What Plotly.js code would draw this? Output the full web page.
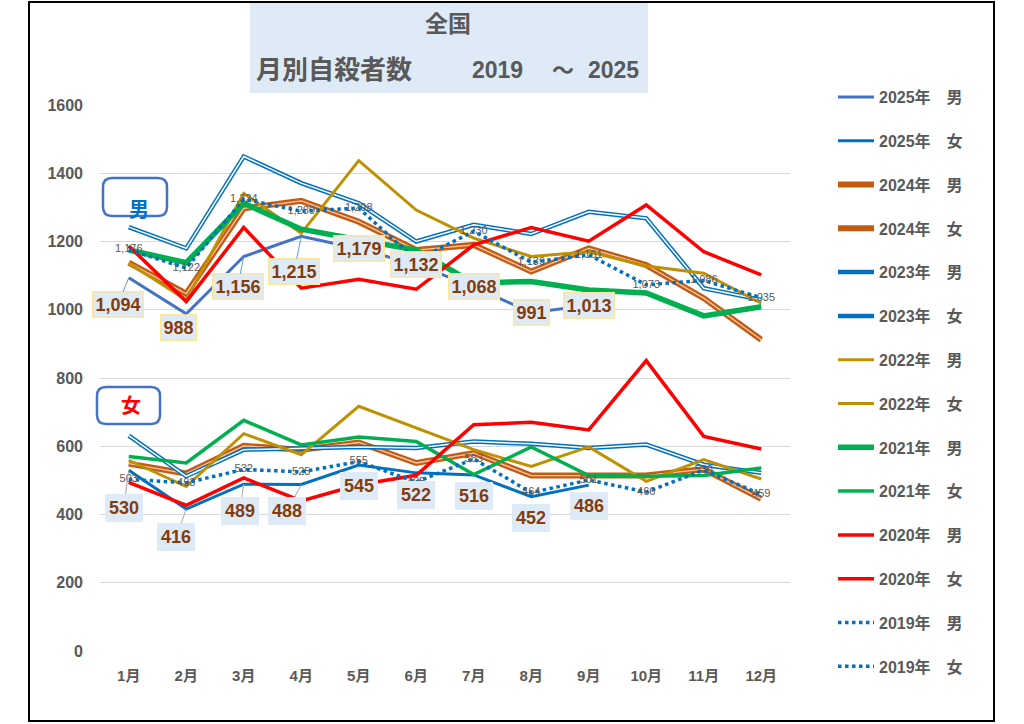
<!DOCTYPE html>
<html>
<head>
<meta charset="utf-8">
<script src="https://cdn.plot.ly/plotly-3.0.1.min.js"></script>
<style>html,body{margin:0;padding:0;background:#fff;}#chart{width:1024px;height:724px;}</style>
</head>
<body>
<div id="chart"></div>
<script>
// ---- data ----
const months = ['1月','2月','3月','4月','5月','6月','7月','8月','9月','10月','11月','12月'];
const yAxisTicks = [0, 200, 400, 600, 800, 1000, 1200, 1400, 1600];
const male2025 = [1094, 988, 1156, 1215, 1179, 1132, 1068, 991, 1013, null, null, null];
const female2025 = [530, 416, 489, 488, 545, 522, 516, 452, 486, null, null, null];
const male2024 = [1138, 1047, 1297, 1319, 1258, 1175, 1190, 1112, 1180, 1131, 1034, 912];
const female2024 = [549, 520, 601, 590, 611, 551, 580, 514, 514, 514, 533, 446];
const male2023 = [1242, 1180, 1449, 1371, 1312, 1200, 1249, 1222, 1287, 1268, 1063, 1029];
const female2023 = [631, 512, 590, 595, 598, 595, 614, 607, 595, 605, 546, 522];
const male2022 = [1136, 1029, 1341, 1224, 1437, 1292, 1210, 1156, 1170, 1128, 1107, 1019];
const female2022 = [559, 482, 637, 575, 717, 653, 590, 541, 598, 497, 561, 504];
const male2021 = [1175, 1138, 1312, 1236, 1205, 1175, 1078, 1083, 1058, 1049, 982, 1009];
const female2021 = [570, 551, 676, 604, 627, 614, 517, 598, 514, 512, 514, 536];
const male2020 = [1187, 1024, 1241, 1063, 1089, 1060, 1190, 1241, 1201, 1307, 1170, 1102];
const female2020 = [494, 427, 507, 440, 487, 515, 663, 670, 648, 851, 629, 592];
const male2019 = [1176, 1122, 1324, 1289, 1298, 1145, 1230, 1139, 1161, 1073, 1086, 1035];
const female2019 = [503, 493, 532, 525, 555, 495, 563, 464, 501, 466, 530, 459];
const seriesNames = ['2025年　男','2025年　女','2024年　男','2024年　女','2023年　男','2023年　女',
  '2022年　男','2022年　女','2021年　男','2021年　女','2020年　男','2020年　女','2019年　男','2019年　女'];
const titleLine1 = '全国';
const titleLine2 = ['月別自殺者数', '2019', '～', '2025'];

// ---- layout helpers (pixel -> paper) ----
const ML = 100, MR = 234, MT = 105, MB = 73, W = 1024, H = 724;
const PW = W - ML - MR, PH = H - MT - MB;
const px = x => (x - ML) / PW;
const py = y => (H - MB - y) / PH;
const fmt = v => v.toLocaleString('en-US');
const FONT = 'Liberation Sans, Noto Sans CJK JP, sans-serif';
const GREY = '#595959';

function line(name, y, color, width, dash, group, extra) {
  return Object.assign({
    type: 'scatter', mode: 'lines', x: months, y: y, name: name,
    legendgroup: group, line: {color: color, width: width, dash: dash || 'solid'},
    hoverinfo: 'skip'
  }, extra || {});
}
const inner = (y, color, width, group) => line('', y, color, width, 'solid', group, {showlegend: false});

const dotText = {mode: 'lines+text', textposition: 'middle center',
  textfont: {family: FONT, size: 11, color: GREY}};

const traces = [
  line(seriesNames[0], male2025, '#4472C4', 3, null, 'g0'),
  line(seriesNames[1], female2025, '#0070C0', 3, null, 'g1'),
  line(seriesNames[2], male2024, '#C55A11', 6, null, 'g2'),
  inner(male2024, '#F8CBAD', 1.3, 'g2'),
  line(seriesNames[3], female2024, '#C55A11', 6, null, 'g3'),
  inner(female2024, '#F8CBAD', 1.3, 'g3'),
  line(seriesNames[4], male2023, '#0070C0', 4.5, null, 'g4'),
  inner(male2023, '#FFFFFF', 1.5, 'g4'),
  line(seriesNames[5], female2023, '#0070C0', 4.5, null, 'g5'),
  inner(female2023, '#FFFFFF', 1.5, 'g5'),
  line(seriesNames[6], male2022, '#BF9000', 3, null, 'g6'),
  line(seriesNames[7], female2022, '#BF9000', 3, null, 'g7'),
  line(seriesNames[8], male2021, '#00B050', 5.5, null, 'g8'),
  line(seriesNames[9], female2021, '#00B050', 3.5, null, 'g9'),
  line(seriesNames[10], male2020, '#FF0000', 3.5, null, 'g10'),
  line(seriesNames[11], female2020, '#FF0000', 3.5, null, 'g11'),
  line(seriesNames[12], male2019, '#0070C0', 3.5, 'dot', 'g12', Object.assign({text: male2019.map(fmt)}, dotText)),
  line(seriesNames[13], female2019, '#0070C0', 3.5, 'dot', 'g13', Object.assign({text: female2019.map(fmt)}, dotText))
];

// label offsets (pixels) for 2025 data labels
const maleOffsets = [[-11,27],[-8,14],[-6,30],[-7,35],[0,0],[0,0],[0,0],[0,0],[0,0]];
const femaleOffsets = [[-5,38],[-10,28],[-4,27],[-14,27],[0,21],[0,22],[0,21],[0,21],[0,21]];
const maleLeader = [true,true,true,true,false,false,false,false,false];
const femaleLeader = [true,true,true,true,false,false,false,false,false];

const annotations = [];
male2025.forEach((v, i) => {
  if (v == null) return;
  annotations.push({x: months[i], y: v, xref: 'x', yref: 'y', text: fmt(v),
    showarrow: true, arrowhead: 0, arrowwidth: 1, standoff: 0,
    arrowcolor: maleLeader[i] ? '#5B9BD5' : 'rgba(0,0,0,0)',
    ax: maleOffsets[i][0], ay: maleOffsets[i][1],
    font: {family: FONT, size: 18, color: '#843C0C', weight: 'bold'},
    bgcolor: '#DEEBF7', bordercolor: '#FFE699', borderwidth: 1.5, borderpad: 2});
});
female2025.forEach((v, i) => {
  if (v == null) return;
  annotations.push({x: months[i], y: v, xref: 'x', yref: 'y', text: fmt(v),
    showarrow: true, arrowhead: 0, arrowwidth: 1, standoff: 0,
    arrowcolor: femaleLeader[i] ? '#A6A6A6' : 'rgba(0,0,0,0)',
    ax: femaleOffsets[i][0], ay: femaleOffsets[i][1],
    font: {family: FONT, size: 18, color: '#843C0C', weight: 'bold'},
    bgcolor: '#DEEBF7', bordercolor: 'rgba(0,0,0,0)', borderwidth: 0, borderpad: 4});
});

// title texts
annotations.push({xref: 'paper', yref: 'paper', x: px(448), y: py(24), text: titleLine1, showarrow: false,
  xanchor: 'center', yanchor: 'middle', font: {family: FONT, size: 23, color: GREY, weight: 'bold'}});
const t2pos = [[334, 26], [497, 23], [563, 22], [613, 23]];
titleLine2.forEach((t, i) => annotations.push({xref: 'paper', yref: 'paper', x: px(t2pos[i][0]), y: py(70),
  text: t, showarrow: false, xanchor: 'center', yanchor: 'middle',
  font: {family: FONT, size: t2pos[i][1], color: GREY, weight: 'bold'}}));

// 男 / 女 boxes
annotations.push({xref: 'paper', yref: 'paper', x: px(127), y: py(197), text: '男', showarrow: false,
  font: {family: FONT, size: 20, color: '#0070C0', weight: 'bold'}});
annotations.push({xref: 'paper', yref: 'paper', x: px(119), y: py(406), text: '女', showarrow: false,
  font: {family: FONT, size: 20, color: '#FF0000', weight: 'bold'}});

function roundRect(x0, y0, x1, y1, r) {
  const P = (x, y) => px(x) + ',' + py(y);
  return 'M' + P(x0 + r, y0) + ' L' + P(x1 - r, y0) + ' Q' + P(x1, y0) + ' ' + P(x1, y0 + r) +
    ' L' + P(x1, y1 - r) + ' Q' + P(x1, y1) + ' ' + P(x1 - r, y1) +
    ' L' + P(x0 + r, y1) + ' Q' + P(x0, y1) + ' ' + P(x0, y1 - r) +
    ' L' + P(x0, y0 + r) + ' Q' + P(x0, y0) + ' ' + P(x0 + r, y0) + ' Z';
}

const shapes = [
  {type: 'rect', xref: 'paper', yref: 'paper', x0: px(250), x1: px(648), y0: py(3), y1: py(93),
    fillcolor: '#DEEBF7', line: {width: 0}, layer: 'below'},
  {type: 'path', xref: 'paper', yref: 'paper', path: roundRect(103, 178, 167, 216, 9),
    fillcolor: 'rgba(255,255,255,0)', line: {color: '#4472C4', width: 2.5}},
  {type: 'path', xref: 'paper', yref: 'paper', path: roundRect(97, 387, 160, 424, 9),
    fillcolor: 'rgba(255,255,255,0)', line: {color: '#4472C4', width: 2.5}},
  {type: 'rect', xref: 'paper', yref: 'paper', x0: px(29), x1: px(994), y0: py(2), y1: py(721),
    fillcolor: 'rgba(0,0,0,0)', line: {color: '#000000', width: 2}}
];

const layout = {
  width: W, height: H,
  margin: {l: ML, r: MR, t: MT, b: MB, pad: 0},
  paper_bgcolor: '#FFFFFF', plot_bgcolor: '#FFFFFF',
  font: {family: FONT, color: GREY},
  showlegend: true,
  legend: {x: px(833), y: py(80), xanchor: 'left', yanchor: 'top', maxheight: 700,
    font: {family: FONT, size: 16, color: GREY, weight: 'bold'},
    traceorder: 'grouped', tracegroupgap: 20, itemwidth: 36, bgcolor: 'rgba(0,0,0,0)'},
  xaxis: {type: 'category', range: [-0.5, 11.5], showgrid: false, zeroline: false, showline: false,
    ticks: '', ticklabelstandoff: 14,
    tickfont: {family: FONT, size: 15, color: GREY, weight: 'bold'}, fixedrange: true},
  yaxis: {range: [0, 1600], tickvals: yAxisTicks, ticktext: yAxisTicks.map(String),
    showgrid: true, gridcolor: '#D9D9D9', gridwidth: 1, zeroline: false, showline: false,
    ticks: '', ticklabelstandoff: 16,
    tickfont: {family: FONT, size: 16, color: GREY, weight: 'bold'}, fixedrange: true},
  annotations: annotations,
  shapes: shapes
};

Plotly.newPlot('chart', traces, layout, {displayModeBar: false, staticPlot: true});
</script>
</body>
</html>
